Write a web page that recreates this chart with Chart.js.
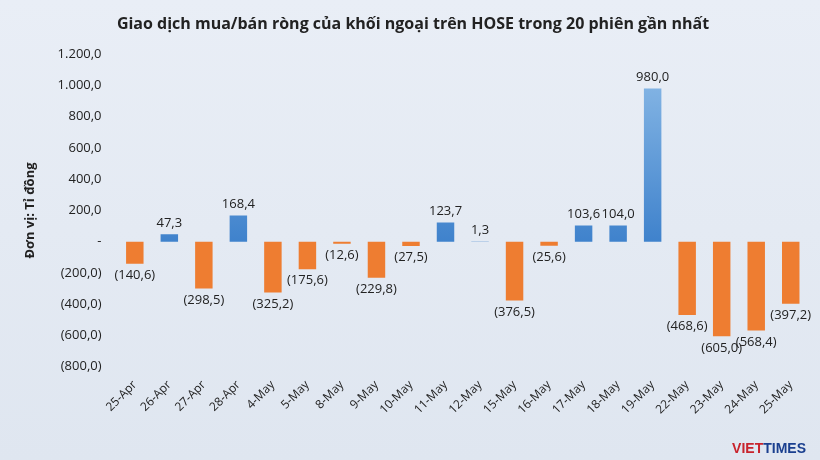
<!DOCTYPE html>
<html>
<head>
<meta charset="utf-8">
<script src="https://cdn.jsdelivr.net/npm/chart.js@4"></script>
<style>
  body { margin: 0; }
  #wrap { width: 820px; height: 460px; background: linear-gradient(#e9eef6, #dfe6f0); position: relative; }
  #logo { position: absolute; right: 14px; bottom: 4px; font: bold 14px "Liberation Sans", sans-serif; color: #c8232c; }
  #logo span { color: #1a3f8f; }
</style>
</head>
<body>
<div id="wrap"><canvas id="chart" width="820" height="460"></canvas><div id="logo">VIET<span>TIMES</span></div></div>
<script>
const labels = ["25-Apr","26-Apr","27-Apr","28-Apr","4-May","5-May","8-May","9-May","10-May","11-May","12-May","15-May","16-May","17-May","18-May","19-May","22-May","23-May","24-May","25-May"];
const values = [-140.6, 47.3, -298.5, 168.4, -325.2, -175.6, -12.6, -229.8, -27.5, 123.7, 1.3, -376.5, -25.6, 103.6, 104.0, 980.0, -468.6, -605.0, -568.4, -397.2];

const fmt = v => {
  if (v === 0) return "-";
  const s = Math.abs(v).toFixed(1).replace(".", ",").replace(/\B(?=(\d{3})+(?!\d))/g, ".");
  return v < 0 ? "(" + s + ")" : s;
};

const barLabels = {
  id: "barLabels",
  afterDatasetsDraw(chart) {
    const ctx = chart.ctx;
    const meta = chart.getDatasetMeta(0);
    ctx.save();
    ctx.font = "13px 'Open Sans', sans-serif";
    ctx.fillStyle = "#222";
    ctx.textAlign = "center";
    meta.data.forEach((bar, i) => {
      const v = values[i];
      if (v >= 0) { ctx.textBaseline = "bottom"; ctx.fillText(fmt(v), bar.x, bar.y - 5); }
      else { ctx.textBaseline = "top"; ctx.fillText(fmt(v), bar.x, bar.y + 5); }
    });
    ctx.restore();
  }
};

const ctx = document.getElementById("chart").getContext("2d");
new Chart(ctx, {
  type: "bar",
  data: {
    labels: labels,
    datasets: [{
      data: values,
      backgroundColor: c => {
        const v = values[c.dataIndex];
        if (v < 0) return "#ee7d31";
        const area = c.chart.chartArea;
        if (!area) return "#5b9bd5";
        const g = c.chart.ctx.createLinearGradient(0, area.top, 0, area.bottom);
        g.addColorStop(0, "#8fbde8");
        g.addColorStop(0.6, "#3f82cc");
        return g;
      },
      categoryPercentage: 0.92,
      barPercentage: 0.55
    }]
  },
  options: {
    responsive: false,
    animation: false,
    layout: { padding: { left: 18, right: 12, top: 5, bottom: 40 } },
    plugins: {
      legend: { display: false },
      tooltip: { enabled: false },
      title: {
        display: true,
        text: "Giao dịch mua/bán ròng của khối ngoại trên HOSE trong 20 phiên gần nhất",
        color: "#222",
        font: { family: "'Open Sans', sans-serif", size: 16, weight: "bold" },
        padding: { top: 10, bottom: 20 }
      }
    },
    scales: {
      x: {
        grid: { display: false },
        border: { display: false },
        ticks: { color: "#222", maxRotation: 45, minRotation: 45, font: { family: "'Open Sans', sans-serif", size: 12 } }
      },
      y: {
        min: -800, max: 1200,
        grid: { display: false },
        border: { display: false },
        title: { display: true, text: "Đơn vị: Tỉ đồng", color: "#222", padding: { bottom: 12 }, font: { family: "'Open Sans', sans-serif", size: 13, weight: "bold" } },
        ticks: { stepSize: 200, color: "#222", padding: 8, callback: v => fmt(v), font: { family: "'Open Sans', sans-serif", size: 13 } }
      }
    }
  },
  plugins: [barLabels]
});
</script>
</body>
</html>
